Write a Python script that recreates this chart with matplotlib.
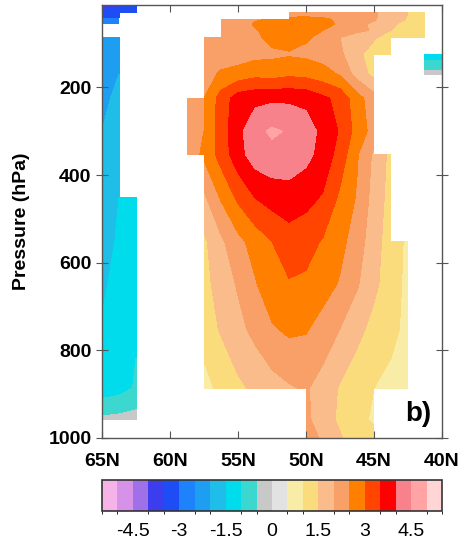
import numpy as np
import matplotlib
matplotlib.use("Agg")
import matplotlib.pyplot as plt
from matplotlib.colors import ListedColormap, BoundaryNorm

na = np.nan

# latitude grid (deg N) and pressure levels (hPa)
lats = [65, 63.75, 62.5, 61.25, 60, 58.75, 57.5, 56.25, 55, 53.75, 52.5,
        51.25, 50, 48.75, 47.5, 46.25, 45, 43.75, 42.5, 41.25, 40]
pressure = [10, 30, 45, 56, 70, 86, 125, 170, 225, 300, 353, 452, 552,
            650, 750, 886, 958, 1000]

# anomaly field, one row per pressure level (nan = not significant)
field = [
    [-3.7, -3.6, -3.4, na, na, na, na, na, na, na, na, na, na, na, na, na, na, na, na, na, na],
    [-3.4, -3.3, -3.1, na, na, na, na, na, na, na, na, 2.3, 2.35, 2.35, 2.25, 2.1, 2.05, 1.8, 1.5, 1.2, na],
    [-3.0, -2.9, na, na, na, na, na, 2.1, 2.25, 2.45, 2.55, 2.6, 2.6, 2.55, 2.45, 2.25, 2.05, 1.75, 1.45, 1.15, na],
    [-2.8, -2.7, na, na, na, na, na, 2.1, 2.25, 2.55, 2.7, 2.75, 2.7, 2.6, 2.45, 2.15, 1.9, 1.6, 1.3, 1.05, na],
    [na, na, na, na, na, na, na, 2.1, 2.2, 2.45, 2.7, 2.75, 2.65, 2.5, 2.35, 2.1, 1.95, 1.5, 1.25, 1.05, na],
    [-2.4, -2.2, na, na, na, na, 2.05, 2.1, 2.2, 2.4, 2.65, 2.7, 2.55, 2.4, 2.0, 1.8, 1.55, 1.3, 1.1, 1.0, na],
    [-2.3, -2.1, na, na, na, na, 2.1, 2.15, 2.25, 2.35, 2.4, 2.45, 2.4, 2.3, 2.1, 1.6, 1.3, 1.1, na, -1.3, -1.3],
    [-2.2, -2.0, na, na, na, na, 2.2, 2.6, 2.7, 2.85, 2.8, 2.9, 2.85, 2.7, 2.45, 1.8, 1.35, na, na, -0.3, -0.3],
    [-2.1, -1.9, na, na, na, 2.15, 2.5, 3.2, 3.75, 3.85, 3.9, 3.9, 3.85, 3.6, 3.35, 2.7, 2.2, na, na, na, na],
    [-2.0, -1.8, na, na, na, 2.2, 2.5, 3.25, 3.85, 4.35, 4.58, 4.45, 4.25, 3.85, 3.45, 2.8, 2.3, na, na, na, na],
    [-1.95, -1.7, na, na, na, 2.2, 2.6, 3.2, 3.8, 4.25, 4.35, 4.35, 4.15, 3.8, 3.3, 2.55, 1.9, 1.35, na, na, na],
    [-1.9, -1.5, -1.2, na, na, na, 1.9, 2.55, 3.1, 3.5, 3.7, 3.75, 3.65, 3.45, 2.9, 2.45, 1.8, 1.3, na, na, na],
    [-1.8, -1.4, -1.15, na, na, na, 1.4, 1.9, 2.35, 2.7, 3.0, 3.3, 3.2, 2.95, 2.65, 2.25, 1.7, 1.25, 0.9, na, na],
    [-1.6, -1.3, -1.1, na, na, na, 1.35, 1.7, 2.05, 2.45, 2.8, 2.95, 2.9, 2.7, 2.45, 2.05, 1.6, 1.25, 0.85, na, na],
    [-1.45, -1.25, -1.05, na, na, na, 1.25, 1.55, 1.85, 2.15, 2.45, 2.6, 2.55, 2.3, 2.0, 1.65, 1.35, 1.1, 0.9, na, na],
    [-1.3, -1.2, -0.95, na, na, na, 0.8, 1.15, 1.4, 1.6, 1.8, 1.95, 2.05, 1.8, 1.45, 1.2, 1.0, 0.9, 0.8, na, na],
    [-0.4, -0.35, -0.3, na, na, na, na, na, na, na, na, na, 2.1, 1.75, 1.4, 1.1, 0.95, na, na, na, na],
    [na, na, na, na, na, na, na, na, na, na, na, na, 2.15, 1.95, 1.55, 1.25, 1.1, na, na, na, na],
]

levels = [-5.5, -5, -4.5, -4, -3.5, -3, -2.5, -2, -1.5, -1, -0.5, 0,
          0.5, 1, 1.5, 2, 2.5, 3, 3.5, 4, 4.5, 5, 5.5]
colors = ["#f5b3e8", "#d592e8", "#a070e8", "#3d3df0", "#1e4cf5", "#1e82fa",
          "#1e9ef0", "#1ebee8", "#00dcec", "#3cd8d0", "#c8c8c8", "#e2e2e2",
          "#f8eca6", "#fadc7c", "#fbbc8c", "#f9a068", "#ff8000", "#ff4500",
          "#ff0000", "#f7828c", "#ffa3a3", "#ffd5d5"]
cbar_ticks = [-4.5, -3, -1.5, 0, 1.5, 3, 4.5]
lat_ticks = [65, 60, 55, 50, 45, 40]
lat_labels = ["65N", "60N", "55N", "50N", "45N", "40N"]
p_ticks = [200, 400, 600, 800, 1000]

plt.rcParams['font.family'] = ['Liberation Sans', 'DejaVu Sans']

cmap = ListedColormap(colors)
norm = BoundaryNorm(levels, cmap.N)

fig = plt.figure(figsize=(4.62, 5.44), dpi=100)
ax = fig.add_axes([0.2208, 0.1949, 0.7359, 0.7960])

X, Y = np.meshgrid(lats, pressure)
Z = np.ma.masked_invalid(np.array(field))
# only full grid cells are filled, which gives the blocky masked edges
cf = ax.contourf(X, Y, Z, levels=levels, cmap=cmap, norm=norm,
                 corner_mask=False)

ax.set_xlim(65, 40)
ax.set_ylim(1000, 12)
ax.set_xticks(lat_ticks)
ax.set_xticklabels(lat_labels)
ax.set_yticks(p_ticks)
ax.tick_params(axis='x', direction='in', length=5, top=True, pad=11,
               labelsize=14, colors='#555555', labelcolor='black')
ax.tick_params(axis='y', direction='inout', length=9, right=True, pad=3,
               labelsize=14, colors='#555555', labelcolor='black')
for lab in ax.get_xticklabels() + ax.get_yticklabels():
    lab.set_fontweight('bold')
for sp in ax.spines.values():
    sp.set_color('#555555')
    sp.set_linewidth(1)
ax.set_ylabel("Pressure (hPa)", fontsize=14, fontweight='bold', labelpad=13)

ax.text(0.97, 0.04, "b)", transform=ax.transAxes, ha='right', va='baseline',
        fontsize=20, fontweight='bold')

cax = fig.add_axes([0.2208, 0.0607, 0.7359, 0.057])
cb = fig.colorbar(cf, cax=cax, orientation='horizontal', ticks=cbar_ticks)
cb.ax.set_xticklabels(["-4.5", "-3", "-1.5", "0", "1.5", "3", "4.5"])
cb.ax.tick_params(length=0, labelsize=14, pad=9)
cb.outline.set_linewidth(1.2)
cb.outline.set_edgecolor('#333333')

fig.savefig("out.png", dpi=100)
